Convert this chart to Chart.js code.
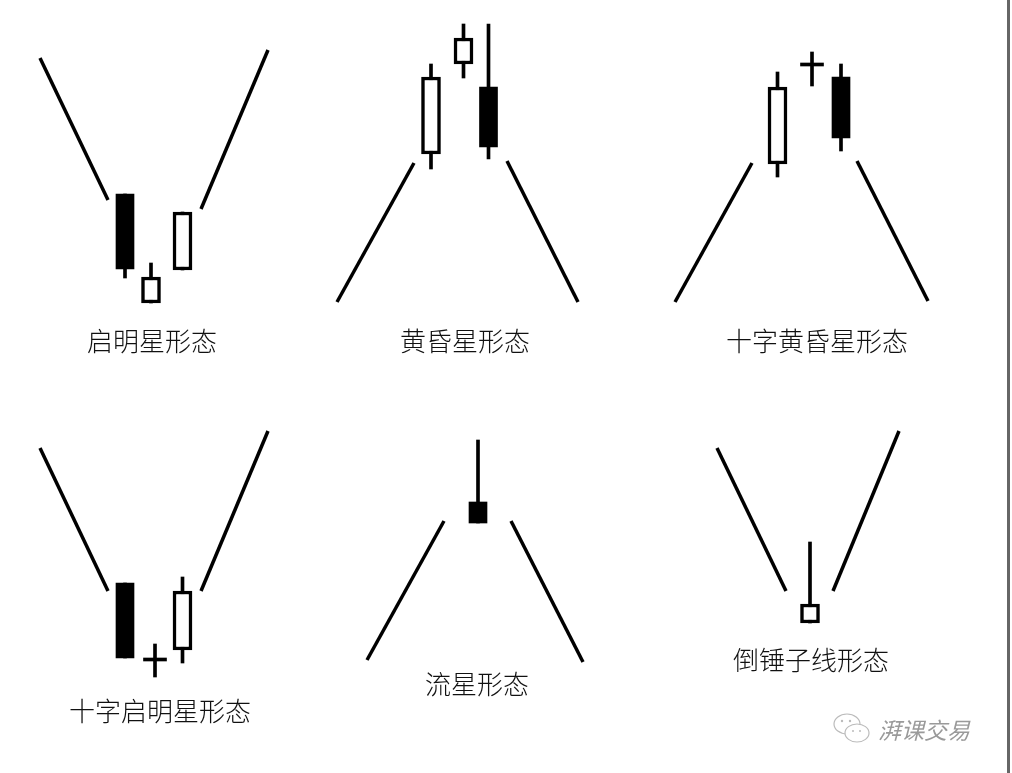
<!DOCTYPE html>
<html>
<head>
<meta charset="utf-8">
<script src="https://cdn.jsdelivr.net/npm/chart.js@4.4.0/dist/chart.umd.min.js"></script>
<style>
  body { margin: 0; background: #fff; }
  #wrap { position: relative; width: 1012px; height: 773px; overflow: hidden; }
  #c { position: absolute; left: 0; top: 0; }
  .name {
    position: absolute;
    transform: translate(-50%, -50%);
    font-family: "Noto Sans CJK SC", sans-serif;
    font-size: 26px;
    line-height: 1;
    font-weight: 300;
    color: #111;
    white-space: nowrap;
  }
  .mark {
    position: absolute; left: 878px; top: 729px;
    transform: translateY(-50%);
    font-family: "Noto Sans CJK SC", sans-serif;
    font-size: 23px; line-height: 1; color: #9a9a9a; font-style: italic;
  }
  .edge { position: absolute; left: 1007px; top: 0; width: 3px; height: 773px; background: #666; }
</style>
</head>
<body>
<div id="wrap">
  <canvas id="c" width="1012" height="773"></canvas>
  <div id="names"></div>
  <svg style="position:absolute;left:832px;top:710px" width="42" height="38" viewBox="0 0 42 38">
    <ellipse cx="15" cy="14" rx="13" ry="10" fill="none" stroke="#bbb" stroke-width="1.2"/>
    <ellipse cx="25" cy="23" rx="12" ry="9" fill="#fff" stroke="#bbb" stroke-width="1.2"/>
    <circle cx="10" cy="11" r="1.2" fill="#bbb"/><circle cx="18" cy="11" r="1.2" fill="#bbb"/>
    <circle cx="21" cy="21" r="1" fill="#bbb"/><circle cx="28" cy="21" r="1" fill="#bbb"/>
  </svg>
  <div class="mark">湃课交易</div>
  <div class="edge"></div>
</div>
<script>
// pattern names, one per panel
const patternNames = ['启明星形态', '黄昏星形态', '十字黄昏星形态', '十字启明星形态', '流星形态', '倒锤子线形态'];
const nameSpots = [[152, 340], [465, 340], [817, 340], [160, 710], [477, 683], [811, 659]];

// trend lines before / after each pattern: [x, price] -> [x, price]
const trendFrom = [[40, 715], [268, 723], [337, 471], [507, 612], [675, 471], [857, 612],
                   [40, 325], [268, 342], [367, 113], [511, 252], [717, 325], [899, 342]];
const trendTo   = [[108, 573], [201, 564], [414, 610], [578, 471], [752, 610], [928, 472],
                   [108, 182], [201, 182], [444, 252], [583, 111], [786, 182], [833, 182]];

// candles (x position on the time axis, then OHLC)
const candleX     = [125, 151, 182.5, 431, 463.5, 488.5, 777.5, 812, 841, 125, 155, 182.5, 478, 810];
const candleOpen  = [579, 470, 503, 619, 709, 686, 609, 707, 696, 190, 112, 123, 271, 150];
const candleClose = [504, 496, 561, 696, 735, 626, 686, 707, 635, 115, 112, 182, 250, 169];
const candleHigh  = [579, 510, 561, 709, 749, 749, 701, 721, 709, 190, 129, 196, 333, 231];
const candleLow   = [495, 470, 503, 604, 695, 614, 596, 687, 622, 115, 96, 110, 250, 150];

const namesBox = document.getElementById('names');
patternNames.forEach((n, i) => {
  const d = document.createElement('div');
  d.className = 'name';
  d.textContent = n;
  d.style.left = nameSpots[i][0] + 'px';
  d.style.top = nameSpots[i][1] + 'px';
  namesBox.appendChild(d);
});

const lineSets = trendFrom.map((p, i) => ({
  type: 'line',
  data: [{ x: p[0], y: p[1] }, { x: trendTo[i][0], y: trendTo[i][1] }],
  borderColor: '#000',
  borderWidth: 3.5,
  pointRadius: 0,
  tension: 0,
  order: 2
}));

const wicks = [], blackBodies = [], whiteBodies = [], dojis = [];
candleX.forEach((x, i) => {
  wicks.push({ x: x, y: [candleLow[i], candleHigh[i]] });
  const body = { x: x, y: [candleOpen[i], candleClose[i]] };
  if (candleOpen[i] === candleClose[i]) dojis.push(body);
  else if (candleClose[i] > candleOpen[i]) whiteBodies.push(body);
  else blackBodies.push(body);
});

const barBase = { type: 'bar', grouped: false, borderSkipped: false };

new Chart(document.getElementById('c'), {
  type: 'bar',
  data: {
    datasets: [
      ...lineSets,
      { ...barBase, data: wicks, backgroundColor: '#000', barThickness: 3, order: 3 },
      { ...barBase, data: blackBodies, backgroundColor: '#000', barThickness: 18, order: 1 },
      { ...barBase, data: whiteBodies, backgroundColor: '#fff', borderColor: '#000', borderWidth: 3.5, barThickness: 19, order: 1 },
      { ...barBase, data: dojis, backgroundColor: '#000', barThickness: 23, minBarLength: 3, order: 1 }
    ]
  },
  options: {
    responsive: false,
    animation: false,
    layout: { padding: 0 },
    plugins: { legend: { display: false }, tooltip: { enabled: false } },
    scales: {
      x: { type: 'linear', min: 0, max: 1012, offset: false, display: false },
      y: { type: 'linear', min: 0, max: 773, display: false }
    }
  }
});
</script>
</body>
</html>
